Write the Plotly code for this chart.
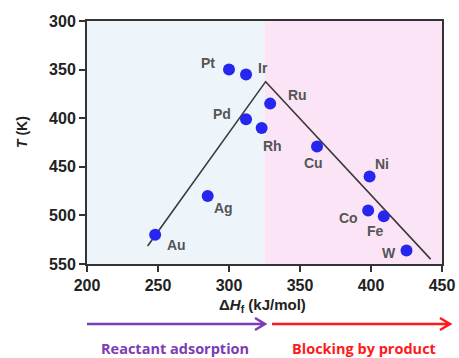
import plotly.graph_objects as go

# ---- data ----
metals = ["Pt", "Ir", "Ru", "Pd", "Rh", "Cu", "Ni", "Co", "Fe", "W", "Au", "Ag"]
delta_h = [300, 312, 329, 312, 323, 362, 399, 398, 409, 425, 248, 285]
temp_k = [350, 355, 385, 401, 410, 429, 460, 495, 501, 536, 520, 480]
# label offsets in pixels (style)
lab_dx = [-21, 17, 27, -24, 11, -4, 12, -20, -8, -18, 21, 16]
lab_dy = [7, 6, 9, 5, -18, -17, 13, -7, -15, -3, -10, -12]

volcano_x = [242.7, 325.8, 442]
volcano_y = [531.5, 362.4, 545]
split_x = 325
x_range = [200, 450]
y_range = [300, 550]
x_ticks = [200, 250, 300, 350, 400, 450]
y_ticks = [300, 350, 400, 450, 500, 550]

fig = go.Figure()

fig.add_trace(go.Scatter(x=volcano_x, y=volcano_y, mode="lines",
                         line=dict(color="#3a3a3a", width=1.6), hoverinfo="skip"))
fig.add_trace(go.Scatter(x=delta_h, y=temp_k, mode="markers",
                         marker=dict(color="#2626ee", size=12), hoverinfo="skip"))

for m, x, y, dx, dy in zip(metals, delta_h, temp_k, lab_dx, lab_dy):
    fig.add_annotation(x=x, y=y, text=f"<b>{m}</b>", showarrow=False, xshift=dx, yshift=dy,
                       xanchor="center", yanchor="middle",
                       font=dict(family="Liberation Sans, Arial", size=14, color="#555"))

# background regions
fig.add_shape(type="rect", xref="x", yref="paper", x0=x_range[0], x1=split_x, y0=0, y1=1,
              fillcolor="#edf5fb", line_width=0, layer="below")
fig.add_shape(type="rect", xref="x", yref="paper", x0=split_x, x1=x_range[1], y0=0, y1=1,
              fillcolor="#fce4f7", line_width=0, layer="below")

# arrows below the plot (paper coordinates)
def px_x(p):
    return (p - 87) / 355.0

def px_y(p):
    return (264 - p) / 243.0

def arrow(x0, x1, y, color):
    path = (f"M {px_x(x0)},{px_y(y)} L {px_x(x1)},{px_y(y)} "
            f"M {px_x(x1-10)},{px_y(y-6)} L {px_x(x1)},{px_y(y)} L {px_x(x1-10)},{px_y(y+6)}")
    fig.add_shape(type="path", xref="paper", yref="paper", path=path,
                  line=dict(color=color, width=2.5))

arrow(87, 265, 324, "#7b3cb5")
arrow(272, 450, 324, "#ff1a1a")

fig.add_annotation(xref="paper", yref="paper", x=px_x(174.5), y=px_y(348.5), text="<b>Reactant adsorption</b>",
                   showarrow=False, xanchor="center", yanchor="middle", borderpad=0,
                   font=dict(family="Open Sans, Liberation Sans", size=14.5, color="#7b3cb5"))
fig.add_annotation(xref="paper", yref="paper", x=px_x(364), y=px_y(348.5), text="<b>Blocking by product</b>",
                   showarrow=False, xanchor="center", yanchor="middle", borderpad=0,
                   font=dict(family="Open Sans, Liberation Sans", size=14.5, color="#ff1a1a"))

fig.add_annotation(xref="paper", yref="paper", x=px_x(262), y=px_y(305),
                   text="<b>Δ<i>H</i><sub>f</sub> (kJ/mol)</b>", showarrow=False,
                   xanchor="center", yanchor="middle",
                   font=dict(family="Liberation Sans, Arial", size=15, color="#222"))
fig.add_annotation(xref="paper", yref="paper", x=px_x(22), y=px_y(132),
                   text="<b><i>T</i> (K)</b>", showarrow=False, textangle=-90,
                   xanchor="center", yanchor="middle",
                   font=dict(family="Liberation Sans, Arial", size=14, color="#222"))

axis_common = dict(showline=True, linecolor="#333", linewidth=2, mirror=True,
                   ticks="outside", ticklen=6, tickwidth=2, tickcolor="#333",
                   showgrid=False, zeroline=False, automargin=False,
                   tickfont=dict(family="Liberation Sans, Arial", size=16, color="#222"))

fig.update_xaxes(range=x_range, tickvals=x_ticks, ticktext=[f"<b>{v}</b>" for v in x_ticks], **axis_common)
fig.update_yaxes(range=y_range[::-1], tickvals=y_ticks, ticktext=[f"<b>{v}</b>" for v in y_ticks], **axis_common)

fig.update_layout(width=459, height=358, margin=dict(l=87, r=17, t=21, b=94),
                  paper_bgcolor="white", plot_bgcolor="white", showlegend=False)

fig.write_html("out.html", config={"displayModeBar": False},
               post_script="document.body.style.margin='0';")
